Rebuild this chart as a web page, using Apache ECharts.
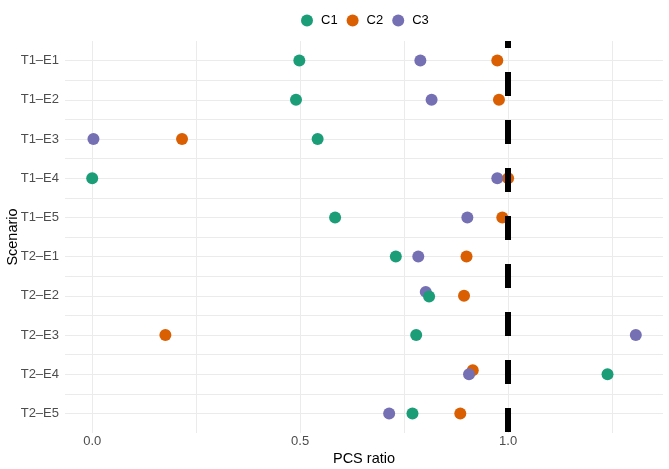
<!DOCTYPE html>
<html>
<head>
<meta charset="utf-8">
<script src="https://cdn.jsdelivr.net/npm/echarts@6/dist/echarts.min.js"></script>
<style>
  html, body { margin: 0; padding: 0; background: #fff; }
  #chart { width: 669px; height: 469px; }
</style>
</head>
<body>
<div id="chart"></div>
<script>
// categories, top to bottom
const scenarios = ['T1–E1', 'T1–E2', 'T1–E3', 'T1–E4', 'T1–E5', 'T2–E1', 'T2–E2', 'T2–E3', 'T2–E4', 'T2–E5']

// PCS ratio per scenario
const c1Values = [0.498, 0.490, 0.542, 0.000, 0.584, 0.730, 0.810, 0.779, 1.239, 0.770]
const c2Values = [0.974, 0.978, 0.216, 1.000, 0.986, 0.900, 0.894, 0.176, 0.915, 0.885]
const c3Values = [0.789, 0.816, 0.003, 0.974, 0.902, 0.784, 0.802, 1.307, 0.906, 0.714]

// small vertical jitter (in rows) seen where points overlap
const c1Jitter = [0, 0, 0, 0, 0, 0, 0.02, 0, 0, 0]
const c2Jitter = [0, 0, 0, 0, 0, 0, 0, 0, -0.1, 0]
const c3Jitter = [0, 0, 0, 0, 0, 0, -0.1, 0, 0, 0]

const xTicks = [0, 0.25, 0.5, 0.75, 1, 1.25]
const xLabels = [0, 0.5, 1]
const refRatio = 1

const FONT = '"Liberation Sans", Arial, sans-serif'
const GRID_COLOR = '#EBEBEB'

function points(values, jitter) {
  return values.map((v, i) => [v, i + jitter[i]])
}

const chart = echarts.init(document.getElementById('chart'))

const option = {
  animation: false,
  textStyle: { fontFamily: FONT },
  legend: {
    data: ['C1', 'C2', 'C3'],
    top: 14,
    left: 301,
    padding: 0,
    icon: 'circle',
    itemWidth: 12,
    itemHeight: 12,
    itemGap: 9,
    textStyle: { fontSize: 13, color: '#000', fontFamily: FONT, padding: [0, 0, 0, 3] }
  },
  grid: { left: 65, right: 6, top: 41, bottom: 36, containLabel: false, outerBoundsMode: 'none' },
  xAxis: {
    type: 'value',
    min: -0.0654,
    max: 1.3724,
    axisLine: { show: false },
    axisTick: { show: false, customValues: xTicks },
    axisLabel: {
      customValues: xLabels,
      formatter: (v) => v.toFixed(1),
      color: '#4D4D4D',
      fontSize: 13,
      margin: 2,
      fontFamily: FONT
    },
    splitLine: { show: true, lineStyle: { color: GRID_COLOR, width: 1 } },
    name: 'PCS ratio',
    nameLocation: 'middle',
    nameMoveOverlap: false,
    nameGap: 18,
    nameTextStyle: { color: '#000', fontSize: 14.5, fontFamily: FONT }
  },
  yAxis: [
    {
      type: 'category',
      data: scenarios,
      inverse: true,
      boundaryGap: true,
      axisLine: { show: false },
      axisTick: { show: false },
      splitLine: { show: false },
      axisLabel: { color: '#4D4D4D', fontSize: 13, margin: 6, fontFamily: FONT },
      name: 'Scenario',
      nameLocation: 'middle',
      nameMoveOverlap: false,
      nameRotate: 90,
      nameGap: 45,
      nameTextStyle: { color: '#000', fontSize: 14.5, fontFamily: FONT }
    },
    {
      type: 'value',
      position: 'left',
      inverse: true,
      min: -0.5,
      max: 9.5,
      interval: 0.5,
      axisLine: { show: false },
      axisTick: { show: false },
      axisLabel: { show: false },
      splitLine: {
        show: true,
        showMinLine: false,
        showMaxLine: false,
        lineStyle: { color: GRID_COLOR, width: 1 }
      }
    }
  ],
  series: [
    {
      name: 'C2',
      type: 'scatter',
      yAxisIndex: 1,
      symbolSize: 12,
      itemStyle: { color: '#D95F02', opacity: 1 },
      data: points(c2Values, c2Jitter)
    },
    {
      name: 'C3',
      type: 'scatter',
      yAxisIndex: 1,
      symbolSize: 12,
      itemStyle: { color: '#7570B3', opacity: 1 },
      data: points(c3Values, c3Jitter)
    },
    {
      name: 'C1',
      type: 'scatter',
      yAxisIndex: 1,
      symbolSize: 12,
      itemStyle: { color: '#1B9E77', opacity: 1 },
      data: points(c1Values, c1Jitter),
      markLine: {
        silent: true,
        symbol: ['none', 'none'],
        label: { show: false },
        lineStyle: { color: '#000', width: 6, type: [24, 24], dashOffset: 17, opacity: 1 },
        data: [{ xAxis: refRatio }]
      }
    }
  ]
}

chart.setOption(option)
</script>
</body>
</html>
